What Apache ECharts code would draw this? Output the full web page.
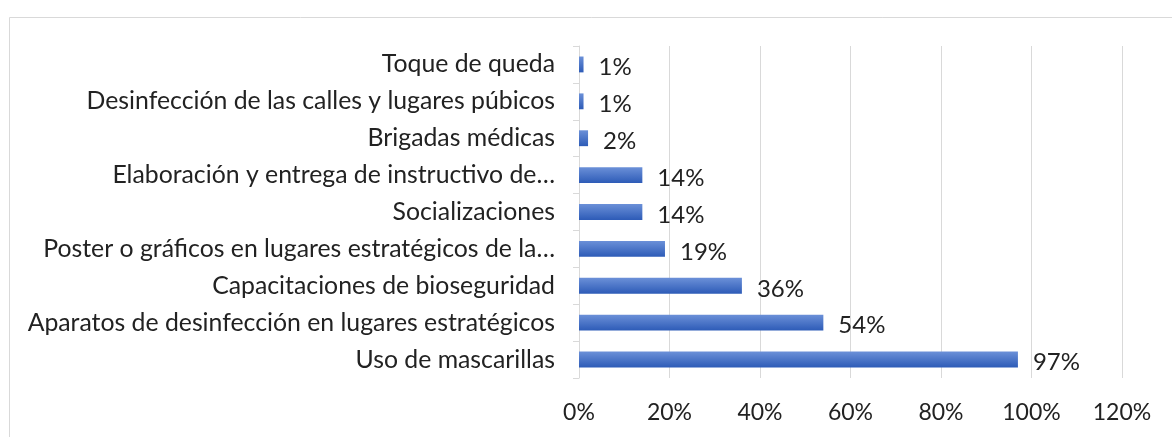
<!DOCTYPE html>
<html>
<head>
<meta charset="utf-8">
<script src="https://cdn.jsdelivr.net/npm/echarts@6/dist/echarts.min.js"></script>
<style>
  html, body { margin: 0; padding: 0; background: #fff; }
  #chart { width: 1172px; height: 437px; }
</style>
</head>
<body>
<div id="chart"></div>
<script>
// categories from top to bottom
const categories = [
  'Toque de queda',
  'Desinfección de las calles y lugares púbicos',
  'Brigadas médicas',
  'Elaboración y entrega de instructivo de…',
  'Socializaciones',
  'Poster o gráficos en lugares estratégicos de la…',
  'Capacitaciones de bioseguridad',
  'Aparatos de desinfección en lugares estratégicos',
  'Uso de mascarillas'
]
const values = [1, 1, 2, 14, 14, 19, 36, 54, 97]
const xTicks = [0, 20, 40, 60, 80, 100, 120]

const chart = echarts.init(document.getElementById('chart'))
const fontFamily = 'Lato, "Open Sans", sans-serif'

chart.setOption({
  backgroundColor: '#fff',
  animation: false,
  graphic: [
    {
      type: 'rect',
      shape: { x: 9.5, y: 17.5, width: 1200, height: 500 },
      style: { fill: 'none', stroke: '#d9d9d9', lineWidth: 1 },
      silent: true
    }
  ],
  grid: {
    left: 579,
    right: 50,
    top: 46,
    bottom: 59
  },
  xAxis: {
    type: 'value',
    min: xTicks[0],
    max: xTicks[xTicks.length - 1],
    interval: 20,
    axisLine: { show: false },
    axisTick: { show: false },
    splitLine: { lineStyle: { color: '#d9d9d9', width: 1 } },
    axisLabel: {
      formatter: '{value}%',
      fontSize: 23,
      fontFamily: fontFamily,
      color: '#222',
      margin: 23
    }
  },
  yAxis: {
    type: 'category',
    data: categories,
    inverse: true,
    axisLine: { show: true, lineStyle: { color: '#d9d9d9' } },
    axisTick: { show: true, length: 6, lineStyle: { color: '#d9d9d9' } },
    axisLabel: {
      fontSize: 24.8,
      fontFamily: fontFamily,
      color: '#222',
      margin: 24
    }
  },
  series: [
    {
      type: 'bar',
      data: values,
      barWidth: '43%',
      itemStyle: {
        color: new echarts.graphic.LinearGradient(0, 0, 0, 1, [
          { offset: 0, color: '#6b90d8' },
          { offset: 1, color: '#2d5bb7' }
        ])
      },
      label: {
        show: true,
        position: 'right',
        distance: 15,
        offset: [0, 3],
        formatter: '{c}%',
        fontSize: 24,
        fontFamily: fontFamily,
        color: '#222'
      }
    }
  ]
})
</script>
</body>
</html>
